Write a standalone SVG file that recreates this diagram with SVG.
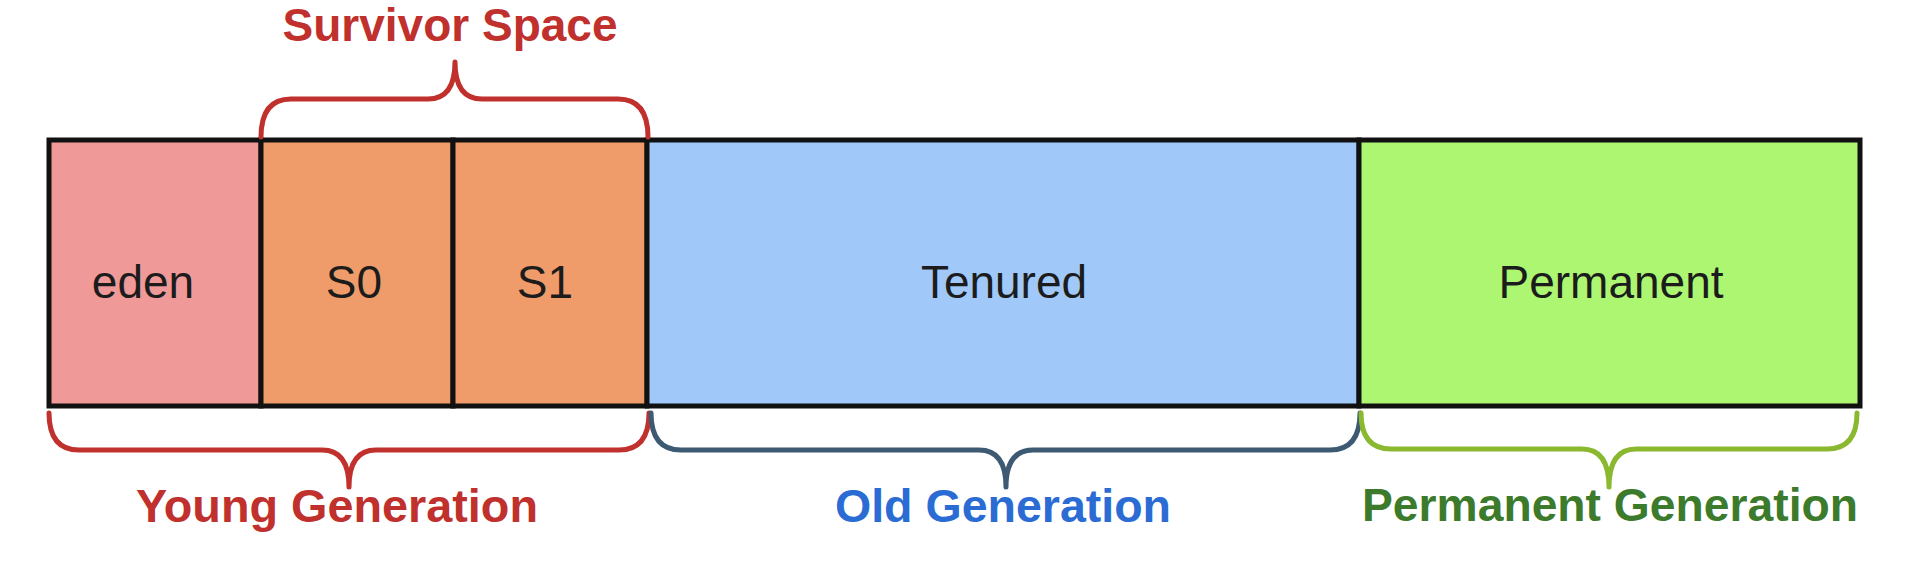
<svg xmlns="http://www.w3.org/2000/svg" width="1910" height="570" viewBox="0 0 1910 570">
<style>
.cell{stroke:#111;stroke-width:5}
.ct{font-family:"Liberation Sans",Arial,sans-serif;font-size:46px;fill:#1c1c1c;text-anchor:middle}
.lbl{font-family:"Liberation Sans",Arial,sans-serif;font-weight:bold;font-size:46px;text-anchor:middle}
.brace{fill:none;stroke-width:5;stroke-linecap:round;stroke-linejoin:round}
</style>
<rect width="1910" height="570" fill="#ffffff"/>
<g id="eden"><rect class="cell" x="49" y="140" width="212" height="266" fill="#ef9a98"/><text class="ct" x="143" y="298">eden</text></g>
<g id="s0"><rect class="cell" x="261" y="140" width="192" height="266" fill="#f09c6a"/><text class="ct" x="354" y="298">S0</text></g>
<g id="s1"><rect class="cell" x="453" y="140" width="194" height="266" fill="#f09c6a"/><text class="ct" x="545" y="298">S1</text></g>
<g id="tenured"><rect class="cell" x="647" y="140" width="712" height="266" fill="#a0c9f9"/><text class="ct" x="1004" y="298">Tenured</text></g>
<g id="permanent"><rect class="cell" x="1359" y="140" width="501" height="266" fill="#adf672"/><text class="ct" x="1611" y="298">Permanent</text></g>
<g id="connectors">
<path class="brace" stroke="#c0302c" d="M261 137 Q261 99 291 99 L428 99 Q455 99 455 62 Q455 99 482 99 L618 99 Q648 99 648 137"/>
<path class="brace" stroke="#c0302c" d="M49 413 Q49 450 79 450 L322 450 Q349 450 349 487 Q349 450 376 450 L619 450 Q649 450 649 413"/>
<path class="brace" stroke="#3e5a73" d="M651 413 Q651 450 681 450 L979 450 Q1006 450 1006 487 Q1006 450 1033 450 L1330 450 Q1360 450 1360 413"/>
<path class="brace" stroke="#8ab82e" d="M1361 413 Q1361 449 1391 449 L1582 449 Q1609 449 1609 487 Q1609 449 1636 449 L1827 449 Q1857 449 1857 413"/>
</g>
<g id="labels">
<text class="lbl" x="450" y="41" fill="#c0302c" font-size="44" textLength="335" lengthAdjust="spacingAndGlyphs">Survivor Space</text>
<text class="lbl" x="337" y="522" fill="#c0302c" textLength="402" lengthAdjust="spacingAndGlyphs">Young Generation</text>
<text class="lbl" x="1003" y="522" fill="#2a6cd4" textLength="336" lengthAdjust="spacingAndGlyphs">Old Generation</text>
<text class="lbl" x="1610" y="521" fill="#3c7a2c" textLength="496" lengthAdjust="spacingAndGlyphs">Permanent Generation</text>
</g>
</svg>
